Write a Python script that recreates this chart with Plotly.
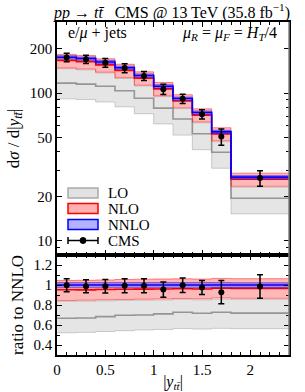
import plotly.graph_objects as go

# ---------------- data ----------------
bin_edges = [0.0, 0.2, 0.4, 0.6, 0.8, 1.0, 1.2, 1.4, 1.6, 1.8, 2.4]
bin_centers = [0.1, 0.3, 0.5, 0.7, 0.9, 1.1, 1.3, 1.5, 1.7, 2.1]

nnlo = [175.5, 172.0, 163.0, 149.0, 132.0, 111.5, 92.0, 74.0, 54.7, 27.0]
nnlo_up = [179.7, 176.1, 166.9, 152.6, 135.2, 114.2, 94.2, 75.8, 56.0, 27.6]
nnlo_dn = [170.6, 167.2, 158.4, 144.8, 128.3, 108.4, 89.4, 71.9, 53.2, 26.2]

nlo = [167.1, 163.7, 155.7, 142.6, 126.5, 107.0, 88.5, 71.0, 52.9, 26.1]
nlo_up = [183.4, 180.1, 171.2, 157.2, 139.7, 118.2, 97.7, 78.4, 58.3, 28.7]
nlo_dn = [148.3, 145.9, 138.9, 127.4, 113.3, 95.9, 79.6, 63.8, 47.6, 23.4]

lo = [117.1, 115.2, 111.5, 103.9, 92.4, 79.3, 66.9, 53.1, 39.8, 19.4]
lo_up = [146.7, 144.1, 137.2, 125.9, 111.9, 94.8, 78.7, 63.0, 46.9, 23.1]
lo_dn = [91.6, 90.6, 87.2, 80.9, 72.6, 61.9, 52.0, 41.4, 31.0, 15.2]

cms = [175.0, 170.0, 161.0, 148.0, 131.0, 106.4, 91.8, 72.1, 50.8, 26.6]
cms_err = [11.4, 11.2, 11.1, 10.4, 9.2, 8.5, 6.6, 5.2, 6.4, 3.2]

legend_labels = ["LO", "NLO", "NNLO", "CMS"]
y_ticks_top = [10, 20, 50, 100, 200]
y_minor_top = [9, 30, 40, 60, 70, 80, 90, 300]
y_ticks_ratio = [0.4, 0.6, 0.8, 1.0, 1.2]
x_ticks = [0, 0.5, 1, 1.5, 2]

FONT = "Liberation Serif"

# figure geometry (pixels)
W, H = 305, 392
ML, MR, MT, MB = 57, 16, 22, 37
PW, PH = W - ML - MR, H - MT - MB


def step(v):
    return list(v) + [v[-1]]


def ratio(a):
    return [x / n for x, n in zip(a, nnlo)]


def px(xp):
    return (xp - ML) / PW


def py(yp):
    return (H - MB - yp) / PH


styles = {
    "LO": dict(fill="rgba(150,150,150,0.25)", edge="rgba(150,150,150,0.45)",
               line="rgba(140,140,140,0.9)", leg_fill="rgb(226,226,226)",
               leg_edge="rgb(170,170,170)"),
    "NLO": dict(fill="rgba(255,0,0,0.28)", edge="rgba(255,0,0,0.45)",
                line="rgb(255,0,0)", leg_fill="rgba(255,0,0,0.3)",
                leg_edge="rgb(255,0,0)"),
    "NNLO": dict(fill="rgba(0,0,255,0.28)", edge="rgba(0,0,255,0.45)",
                 line="rgb(0,0,255)", leg_fill="rgba(0,0,255,0.3)",
                 leg_edge="rgb(0,0,255)"),
}

series = [
    ("LO", lo, lo_up, lo_dn),
    ("NLO", nlo, nlo_up, nlo_dn),
    ("NNLO", nnlo, nnlo_up, nnlo_dn),
]

fig = go.Figure()

for panel, (xa, ya) in enumerate([("x", "y"), ("x2", "y2")]):
    for name, c, up, dn in series:
        st = styles[name]
        if panel == 1:
            c, up, dn = ratio(c), ratio(up), ratio(dn)
        fig.add_trace(go.Scatter(
            x=bin_edges, y=step(dn), mode="lines", line_shape="hv",
            line=dict(color=st["edge"], width=1), showlegend=False,
            xaxis=xa, yaxis=ya, hoverinfo="skip"))
        fig.add_trace(go.Scatter(
            x=bin_edges, y=step(up), mode="lines", line_shape="hv",
            line=dict(color=st["edge"], width=1), fill="tonexty",
            fillcolor=st["fill"], showlegend=False,
            xaxis=xa, yaxis=ya, hoverinfo="skip"))
        fig.add_trace(go.Scatter(
            x=bin_edges, y=step(c), mode="lines", line_shape="hv",
            line=dict(color=st["line"], width=1.6), showlegend=False,
            name=name, xaxis=xa, yaxis=ya))
    cy = cms if panel == 0 else ratio(cms)
    ce = cms_err if panel == 0 else ratio(cms_err)
    fig.add_trace(go.Scatter(
        x=bin_centers, y=cy, mode="markers", name="CMS",
        marker=dict(color="black", size=6),
        error_y=dict(type="data", array=ce, color="black", thickness=1.5, width=3),
        showlegend=False, xaxis=xa, yaxis=ya))

# ---------------- legend (drawn in paper coordinates) ----------------
shapes = []
annotations = []
leg_x0, leg_x1, leg_tx = 68, 98, 106
leg_rows = [193, 208.5, 224.5, 240.5]
for lab, yc in zip(legend_labels, leg_rows):
    if lab in styles:
        st = styles[lab]
        shapes.append(dict(type="rect", xref="paper", yref="paper",
                           x0=px(leg_x0), x1=px(leg_x1),
                           y0=py(yc + 5), y1=py(yc - 5),
                           fillcolor=st["leg_fill"],
                           line=dict(color=st["leg_edge"], width=1.5)))
    else:
        shapes.append(dict(type="line", xref="paper", yref="paper",
                           x0=px(leg_x0), x1=px(leg_x1), y0=py(yc), y1=py(yc),
                           line=dict(color="black", width=1.5)))
        for xe in (leg_x0, leg_x1):
            shapes.append(dict(type="line", xref="paper", yref="paper",
                               x0=px(xe), x1=px(xe), y0=py(yc - 3.5), y1=py(yc + 3.5),
                               line=dict(color="black", width=1.5)))
        xm = (leg_x0 + leg_x1) / 2
        shapes.append(dict(type="circle", xref="paper", yref="paper",
                           x0=px(xm - 3), x1=px(xm + 3), y0=py(yc + 3), y1=py(yc - 3),
                           fillcolor="black", line=dict(color="black", width=1)))
    annotations.append(dict(text=lab, xref="paper", yref="paper",
                            x=px(leg_tx), y=py(yc), xanchor="left", yanchor="middle",
                            showarrow=False,
                            font=dict(family=FONT, size=15, color="black")))

annotations += [
    dict(text="e/<i>μ</i> + jets", xref="paper", yref="paper",
         x=px(66), y=py(33), xanchor="left", yanchor="middle", showarrow=False,
         font=dict(family=FONT, size=16, color="black")),
    dict(text="<i>μ</i><sub><i>R</i></sub> = <i>μ</i><sub><i>F</i></sub> = <i>H</i><sub><i>T</i></sub>/4",
         xref="paper", yref="paper",
         x=px(279), y=py(34), xanchor="right", yanchor="middle", showarrow=False,
         font=dict(family=FONT, size=16, color="black")),
]

# right frame edge is drawn in grey in the reference
shapes.append(dict(type="line", xref="paper", yref="paper", x0=1, x1=1, y0=0, y1=1,
                   line=dict(color="rgb(130,130,130)", width=1.5)))

split = 100 / PH

axis_common = dict(
    showline=True, linecolor="black", linewidth=1.5, mirror="allticks",
    ticks="inside", ticklen=5, tickwidth=1, tickcolor="black",
    showgrid=False, zeroline=False, automargin=False,
    tickfont=dict(family=FONT, size=15, color="black"),
)

fig.update_layout(
    width=W, height=H,
    margin=dict(l=ML, r=MR, t=MT, b=MB, autoexpand=False),
    paper_bgcolor="white", plot_bgcolor="white",
    font=dict(family=FONT, size=15, color="black"),
    showlegend=False,
    title=dict(text="<i>pp</i> → <i>tt\u0304</i>   CMS @ 13 TeV (35.8 fb<sup>−1</sup>)",
               x=172 / W, xanchor="center", y=1 - 12 / H, yanchor="middle",
               font=dict(family=FONT, size=16, color="black")),
    xaxis=dict(domain=[0, 1], anchor="y", range=[0, 2.4], tickvals=x_ticks,
               showticklabels=False,
               minor=dict(ticks="inside", ticklen=3, dtick=0.1, tick0=0,
                          tickcolor="black"),
               **axis_common),
    yaxis=dict(domain=[split, 1], anchor="x", type="log",
               range=[0.903, 2.483], tickvals=y_ticks_top,
               ticktext=[str(v) for v in y_ticks_top],
               minor=dict(ticks="inside", ticklen=3, tickvals=y_minor_top,
                          tickcolor="black"),
               title=dict(text="d<i>σ</i> / d|<i>y</i><sub><i>tt\u0304</i></sub>|",
                          font=dict(family=FONT, size=17), standoff=6),
               **axis_common),
    xaxis2=dict(domain=[0, 1], anchor="y2", range=[0, 2.4], matches="x",
                tickvals=x_ticks, ticktext=["0", "0.5", "1", "1.5", "2"],
                minor=dict(ticks="inside", ticklen=3, dtick=0.1, tick0=0,
                           tickcolor="black"),
                title=dict(text="|<i>y</i><sub><i>tt\u0304</i></sub>|",
                           font=dict(family=FONT, size=16), standoff=1),
                **axis_common),
    yaxis2=dict(domain=[0, split], anchor="x2", range=[0.3, 1.3],
                tickvals=y_ticks_ratio, ticktext=["0.4", "0.6", "0.8", "1", "1.2"],
                minor=dict(ticks="inside", ticklen=3, dtick=0.1, tick0=0,
                           tickcolor="black"),
                title=dict(text="ratio to NNLO", font=dict(family=FONT, size=17),
                           standoff=6),
                **axis_common),
    shapes=shapes,
    annotations=annotations,
)

fig.write_html("out.html",
               config={"displayModeBar": False},
               post_script="document.body.style.margin='0px';document.body.style.overflow='hidden';")
